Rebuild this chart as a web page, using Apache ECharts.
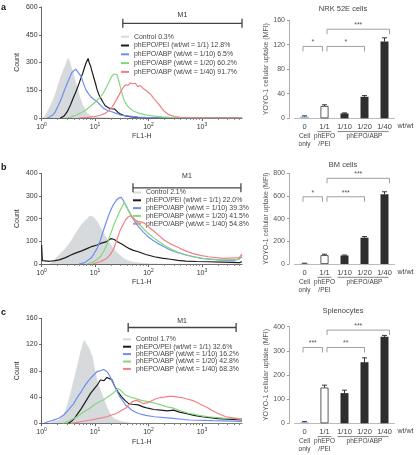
<!DOCTYPE html>
<html><head><meta charset="utf-8">
<script src="https://cdn.jsdelivr.net/npm/echarts@6/dist/echarts.min.js"></script>
<style>html,body{margin:0;padding:0;background:#fff}#c{width:418px;height:455px}</style>
</head><body><div id="c"></div>
<script>
// ---------- DATA ----------
// Histogram x values are log10(FL1-H) decades (axis labelled 10^0 .. 10^3)
const panelLetters = ['a', 'b', 'c'];
const legendA = ['Control 0.3%', 'phEPO/PEI (wt/wt = 1/1) 12.8%', 'phEPO/ABP (wt/wt = 1/10) 6.5%', 'phEPO/ABP (wt/wt = 1/20) 60.2%', 'phEPO/ABP (wt/wt = 1/40) 91.7%'];
const legendB = ['Control 2.1%', 'phEPO/PEI (wt/wt = 1/1) 22.0%', 'phEPO/ABP (wt/wt = 1/10) 39.3%', 'phEPO/ABP (wt/wt = 1/20) 41.5%', 'phEPO/ABP (wt/wt = 1/40) 54.8%'];
const legendC = ['Control 1.7%', 'phEPO/PEI (wt/wt = 1/1) 32.6%', 'phEPO/ABP (wt/wt = 1/10) 16.2%', 'phEPO/ABP (wt/wt = 1/20) 42.8%', 'phEPO/ABP (wt/wt = 1/40) 68.3%'];
const histYMax = [600, 400, 160];
const histYStep = [150, 100, 40];
const histXTicks = [0, 1, 2, 3];

const aCtrl = [[0,0],[0.05,5],[0.12,40],[0.18,75],[0.24,115],[0.3,170],[0.36,224],[0.41,262],[0.45,287],[0.48,312],[0.5,323],[0.53,302],[0.56,272],[0.59,245],[0.63,200],[0.68,152],[0.72,110],[0.77,70],[0.82,42],[0.86,25],[0.92,14],[0.98,8],[1.05,5],[1.15,3],[1.3,1],[1.5,0],[3.75,0]];
const aPei = [[0.35,0],[0.42,10],[0.48,34],[0.54,70],[0.59,107],[0.64,140],[0.68,170],[0.73,210],[0.77,242],[0.8,270],[0.83,296],[0.85,305],[0.87,322],[0.89,300],[0.92,278],[0.95,245],[0.98,215],[1.01,185],[1.04,152],[1.07,128],[1.1,110],[1.15,85],[1.19,66],[1.25,55],[1.31,50],[1.37,48],[1.43,30],[1.5,18],[1.57,11],[1.68,6],[1.8,3],[2.0,0],[3.75,0]];
const aAbp10 = [[0.1,0],[0.15,5],[0.2,15],[0.24,25],[0.3,60],[0.36,98],[0.42,145],[0.48,188],[0.52,215],[0.56,242],[0.6,255],[0.64,264],[0.67,255],[0.7,240],[0.74,224],[0.78,190],[0.83,152],[0.88,130],[0.92,115],[0.98,100],[1.04,88],[1.1,70],[1.16,52],[1.23,42],[1.31,34],[1.4,25],[1.48,16],[1.57,12],[1.66,10],[1.8,5],[1.95,3],[2.2,0],[3.75,0]];
const aAbp20 = [[0.45,0],[0.55,5],[0.65,16],[0.75,30],[0.83,43],[0.92,65],[1.01,88],[1.07,105],[1.13,124],[1.18,148],[1.22,170],[1.27,200],[1.31,224],[1.35,238],[1.38,242],[1.41,235],[1.45,196],[1.48,160],[1.51,128],[1.55,92],[1.6,68],[1.66,50],[1.72,38],[1.8,28],[1.9,20],[2.0,15],[2.1,10],[2.25,6],[2.4,3],[2.6,0],[3.75,0]];
const aAbp40 = [[0.7,0],[0.85,3],[1.0,8],[1.1,15],[1.19,25],[1.25,38],[1.31,55],[1.36,78],[1.4,98],[1.45,125],[1.5,152],[1.54,170],[1.58,180],[1.62,176],[1.66,190],[1.7,185],[1.75,188],[1.8,170],[1.85,175],[1.9,160],[1.95,150],[2.0,138],[2.05,125],[2.1,105],[2.15,88],[2.2,72],[2.25,52],[2.3,35],[2.38,18],[2.48,8],[2.6,4],[2.8,2],[3.0,0],[3.75,0]];

const bCtrl = [[0.15,0],[0.25,20],[0.33,40],[0.42,62],[0.5,84],[0.56,105],[0.62,128],[0.68,150],[0.74,172],[0.8,188],[0.86,200],[0.9,212],[0.95,209],[1.0,200],[1.04,187],[1.1,162],[1.16,135],[1.22,112],[1.28,91],[1.34,70],[1.4,54],[1.46,40],[1.52,28],[1.6,16],[1.7,9],[1.85,4],[2.0,1],[2.2,0],[3.75,0]];
const bPei = [[0,84],[0.015,15],[0.05,10],[0.15,12],[0.25,15],[0.33,18],[0.45,28],[0.55,40],[0.62,47],[0.75,58],[0.86,69],[0.95,78],[1.04,84],[1.12,92],[1.22,99],[1.3,112],[1.36,108],[1.42,98],[1.5,88],[1.58,76],[1.63,69],[1.72,60],[1.81,54],[1.95,42],[2.11,32],[2.25,26],[2.41,21],[2.55,16],[2.7,13],[2.9,11],[3.12,10],[3.4,8],[3.7,6],[3.75,10]];
const bAbp10 = [[0.7,0],[0.8,5],[0.92,25],[0.98,45],[1.04,69],[1.1,105],[1.16,150],[1.22,192],[1.28,231],[1.34,260],[1.4,282],[1.45,292],[1.49,294],[1.53,280],[1.57,260],[1.63,235],[1.69,209],[1.75,186],[1.81,165],[1.9,142],[1.99,121],[2.08,105],[2.17,91],[2.3,75],[2.41,62],[2.55,50],[2.7,40],[2.85,32],[3.0,25],[3.3,18],[3.6,14],[3.75,30]];
const bAbp20 = [[0.85,0],[0.95,8],[1.04,20],[1.1,32],[1.16,55],[1.22,84],[1.28,125],[1.34,165],[1.4,200],[1.46,231],[1.51,255],[1.55,272],[1.59,255],[1.63,231],[1.69,210],[1.75,194],[1.84,172],[1.93,150],[2.02,130],[2.11,113],[2.2,98],[2.29,84],[2.4,68],[2.53,54],[2.67,42],[2.82,32],[2.97,26],[3.12,22],[3.4,18],[3.7,20],[3.75,40]];
const bAbp40 = [[0.95,0],[1.1,10],[1.22,25],[1.28,40],[1.34,62],[1.4,100],[1.46,143],[1.52,172],[1.57,194],[1.62,208],[1.66,213],[1.7,205],[1.75,194],[1.8,188],[1.87,185],[1.93,179],[2.02,160],[2.11,143],[2.2,125],[2.29,106],[2.4,90],[2.53,76],[2.67,60],[2.82,47],[2.97,38],[3.12,32],[3.4,25],[3.7,28],[3.75,45]];

const cCtrl = [[0.15,0],[0.25,3],[0.33,5],[0.4,12],[0.45,20],[0.5,33],[0.56,51],[0.6,65],[0.65,81],[0.7,98],[0.74,112],[0.77,120],[0.8,127],[0.83,122],[0.86,118],[0.89,114],[0.92,108],[0.95,102],[0.98,88],[1.01,76],[1.05,63],[1.1,51],[1.16,38],[1.22,25],[1.28,15],[1.34,8],[1.45,4],[1.55,2],[1.7,0],[3.75,0]];
const cPei = [[0.5,0],[0.56,3],[0.62,8],[0.68,15],[0.74,22],[0.8,30],[0.86,38],[0.92,46],[0.98,52],[1.04,58],[1.1,66],[1.13,69],[1.17,65],[1.22,70],[1.27,68],[1.31,67],[1.34,62],[1.37,56],[1.43,48],[1.49,41],[1.56,35],[1.63,30],[1.7,29],[1.81,28],[1.9,25],[1.99,23],[2.1,21],[2.23,20],[2.35,19],[2.47,20],[2.58,17],[2.7,15],[2.85,12],[3.0,10],[3.3,7],[3.75,5]];
const cAbp10 = [[0.05,0],[0.1,2],[0.2,4],[0.33,8],[0.42,13],[0.5,20],[0.6,30],[0.68,41],[0.74,48],[0.8,56],[0.86,63],[0.92,69],[0.98,74],[1.04,79],[1.1,80],[1.16,82],[1.2,80],[1.25,76],[1.3,68],[1.34,61],[1.4,51],[1.46,41],[1.52,34],[1.57,28],[1.63,24],[1.69,20],[1.81,15],[1.95,12],[2.11,10],[2.41,8],[2.76,5],[3.2,4],[3.75,3]];
const cAbp20 = [[0.4,0],[0.5,3],[0.62,8],[0.7,12],[0.8,18],[0.9,23],[0.98,28],[1.07,32],[1.16,36],[1.25,41],[1.34,46],[1.39,50],[1.43,53],[1.48,50],[1.53,46],[1.57,43],[1.66,40],[1.75,38],[1.87,35],[1.99,33],[2.11,31],[2.23,28],[2.35,25],[2.47,23],[2.6,19],[2.76,15],[2.95,12],[3.12,10],[3.4,8],[3.75,7]];
const cAbp40 = [[0.55,0],[0.7,2],[0.92,5],[1.1,8],[1.22,10],[1.32,13],[1.4,15],[1.5,20],[1.57,23],[1.63,28],[1.7,33],[1.77,35],[1.84,33],[1.9,30],[1.97,31],[2.05,34],[2.13,37],[2.21,39],[2.3,40],[2.38,41],[2.47,41],[2.55,40],[2.64,39],[2.72,37],[2.82,35],[2.9,32],[3.0,28],[3.1,24],[3.18,20],[3.3,15],[3.45,10],[3.6,8],[3.75,6]];

// M1 gate: [start decade, end decade, count level]
const m1A = [1.52, 3.75, 512];
const m1B = [1.71, 3.73, 336];
const m1C = [1.62, 3.64, 146];

// Bar charts
const cellTitles = ['NRK 52E cells', 'BM cells', 'Splenocytes'];
const barCats = ['0', '1/1', '1/10', '1/20', '1/40'];
const barGroups = ['Cell\nonly', 'phEPO\n/PEI', '', 'phEPO/ABP', ''];
const groupSpans = [[1, 1], [2, 4]];
const barA = [3, 20, 8, 35, 125];
const errA = [1, 2, 0.8, 2, 6];
const barB = [5, 78, 75, 232, 615];
const errB = [2, 8, 4, 10, 22];
const barC = [5, 148, 125, 253, 358];
const errC = [2, 10, 12, 18, 6];
const barYMax = [160, 800, 400];
const barYStep = [40, 200, 100];
// significance: [from category, to category, level, label]
const sigA = [[0, 1, 117, '*'], [1, 3, 117, '*'], [1, 4, 145, '***']];
const sigB = [[0, 1, 593, '*'], [1, 3, 593, '***'], [1, 4, 756, '***']];
const sigC = [[0, 1, 314, '***'], [1, 3, 314, '**'], [1, 4, 386, '***']];

// ---------- LAYOUT / STYLE ----------
const F = "'Liberation Sans', Arial, Helvetica, sans-serif";
const histTop = [7, 173.3, 318.3], histH = [111, 90.7, 105];
const barTop = [20, 173.3, 326.7], barH = [98.3, 90.7, 96.6];
const legendTop = [33.2, 189, 335.8], legendLeft = [121, 133, 123], legendGap = [1.8, 0.8, 0.4];
const m1TextOff = [8.5, 11.5, 6];
const titleTop = [5, 161, 306.5];
const letterTop = [3, 163, 308];
const colCtrl = '#d6dadc', colPei = '#1c1c1c', colB = '#6f8ef0', colG = '#86d67f', colR = '#f27f86';
const lineCols = [colCtrl, colPei, colB, colG, colR];

const histData = [[aCtrl, aPei, aAbp10, aAbp20, aAbp40], [bCtrl, bPei, bAbp10, bAbp20, bAbp40], [cCtrl, cPei, cAbp10, cAbp20, cAbp40]];
const legends = [legendA, legendB, legendC];
const m1s = [m1A, m1B, m1C];
const bars = [barA, barB, barC], errs = [errA, errB, errC], sigs = [sigA, sigB, sigC];

const minorVals = [];
for (let d = 0; d < 4; d++) for (let k = 2; k < 10; k++) { const v = d + Math.log10(k); if (v <= 3.75) minorVals.push(v); }

const grid = [], xAxis = [], yAxis = [], series = [], legend = [], title = [];

for (let i = 0; i < 3; i++) grid.push({ left: 31, width: 211, top: histTop[i], height: histH[i] });
for (let i = 0; i < 3; i++) grid.push({ left: 294.5, width: 100, top: barTop[i], height: barH[i] });

// hist main x axes 0-2
for (let i = 0; i < 3; i++) xAxis.push({
  type: 'value', gridIndex: i, min: 0, max: 3.75, position: 'bottom',
  axisLine: { lineStyle: { color: '#666', width: 1 } },
  axisTick: { customValues: histXTicks, length: 3, lineStyle: { color: '#666' } },
  axisLabel: { customValues: histXTicks, margin: 4, color: '#333',
    formatter: v => '{b|10}{s|' + Math.round(v) + '}',
    rich: { b: { fontSize: 7, fontFamily: F, color: '#333', verticalAlign: 'bottom' }, s: { fontSize: 5, fontFamily: F, color: '#333', verticalAlign: 'bottom', padding: [0, 0, 3.5, 0] } } },
  splitLine: { show: false },
  name: 'FL1-H', nameLocation: 'middle', nameGap: 15,
  nameTextStyle: { fontSize: 7, color: '#333', fontFamily: F }
});
// hist minor tick axes 3-5
for (let i = 0; i < 3; i++) xAxis.push({
  type: 'value', gridIndex: i, min: 0, max: 3.75, position: 'bottom',
  axisLine: { show: false }, axisLabel: { show: false }, splitLine: { show: false },
  axisTick: { customValues: minorVals, length: 1.8, lineStyle: { color: '#777' } }
});
// bar x axes 6-8
for (let i = 0; i < 3; i++) xAxis.push({
  type: 'category', gridIndex: 3 + i, data: barCats,
  axisLine: { lineStyle: { color: '#aaa', width: 0.8 } },
  axisTick: { show: false },
  axisLabel: { interval: 0, margin: 3,
    formatter: (v, idx) => '{c|' + v + '}\n' + (barGroups[idx] || ' ').split('\n').map(s => '{g|' + s + '}').join('\n'),
    rich: { c: { fontSize: 7.5, lineHeight: 11, color: '#444', fontFamily: F }, g: { fontSize: 6.5, lineHeight: 8.2, color: '#444', fontFamily: F } } },
  name: 'wt/wt', nameLocation: 'end', nameGap: 3,
  nameTextStyle: { fontSize: 7, color: '#444', fontFamily: F, align: 'left', verticalAlign: 'top', padding: [4.5, 0, 0, 0] }
});

for (let i = 0; i < 3; i++) yAxis.push({
  type: 'value', gridIndex: i, min: 0, max: histYMax[i], interval: histYStep[i],
  axisLine: { show: true, lineStyle: { color: '#666', width: 1 } },
  axisTick: { show: true, length: 2.5, lineStyle: { color: '#666' } },
  axisLabel: { fontSize: 7, color: '#333', margin: 4, fontFamily: F },
  splitLine: { show: false },
  name: 'Count', nameLocation: 'middle', nameGap: 21,
  nameTextStyle: { fontSize: 7, color: '#333', fontFamily: F }
});
for (let i = 0; i < 3; i++) yAxis.push({
  type: 'value', gridIndex: 3 + i, min: 0, max: barYMax[i], interval: barYStep[i], offset: 5.5,
  axisLine: { show: true, lineStyle: { color: '#999', width: 0.8 } },
  axisTick: { show: true, length: 2, lineStyle: { color: '#999' } },
  axisLabel: { fontSize: 7, color: '#555', margin: 4, fontFamily: F },
  splitLine: { show: false },
  name: 'YOYO-1 cellular uptake (MFI)', nameLocation: 'middle', nameGap: 19,
  nameTextStyle: { fontSize: 7, color: '#555', fontFamily: F }
});

for (let i = 0; i < 3; i++) {
  const names = legends[i];
  histData[i].forEach((d, k) => {
    const s = {
      type: 'line', name: names[k], xAxisIndex: i, yAxisIndex: i, data: d,
      showSymbol: false, symbol: 'none', animation: false, silent: true,
      itemStyle: { color: lineCols[k] },
      lineStyle: { color: lineCols[k], width: k === 0 ? 0.5 : 1.2 },
      z: 2 + k
    };
    if (k === 0) s.areaStyle = { color: colCtrl, opacity: 1 };
    series.push(s);
  });
  // M1 gate
  const m1 = m1s[i];
  const off = m1TextOff[i];
  series.push({
    type: 'custom', xAxisIndex: i, yAxisIndex: i, data: [m1], clip: false, silent: true, z: 10,
    renderItem: (params, api) => {
      const p1 = api.coord([api.value(0), api.value(2)]);
      const p2 = api.coord([api.value(1), api.value(2)]);
      const st = { stroke: '#444', lineWidth: 1.3 };
      return { type: 'group', children: [
        { type: 'line', shape: { x1: p1[0], y1: p1[1], x2: p2[0], y2: p2[1] }, style: st },
        { type: 'line', shape: { x1: p1[0], y1: p1[1] - 4.5, x2: p1[0], y2: p1[1] + 4.5 }, style: st },
        { type: 'line', shape: { x1: p2[0], y1: p2[1] - 4.5, x2: p2[0], y2: p2[1] + 4.5 }, style: st },
        { type: 'text', style: { text: 'M1', x: (p1[0] + p2[0]) / 2, y: p1[1] - off, align: 'center', verticalAlign: 'middle', fontSize: 7, fontFamily: F, fill: '#333' } }
      ] };
    }
  });
  legend.push({
    data: names, orient: 'vertical', left: legendLeft[i], top: legendTop[i],
    icon: 'rect', itemWidth: 8, itemHeight: 2, itemGap: legendGap[i], selectedMode: false, padding: 0,
    textStyle: { fontSize: 6.9, color: '#444', fontFamily: F, lineHeight: 7 }
  });
  title.push({ text: panelLetters[i], left: 1, top: letterTop[i], padding: 0, textStyle: { fontSize: 9, fontWeight: 'bold', color: '#111', fontFamily: F } });
  title.push({ text: cellTitles[i], left: 343, top: titleTop[i], textAlign: 'center', padding: 0, textStyle: { fontSize: 7.5, fontWeight: 'normal', color: '#444', fontFamily: F } });

  // Bars
  const xi = 6 + i, yi = 3 + i;
  series.push({
    type: 'bar', xAxisIndex: xi, yAxisIndex: yi, barWidth: 8, silent: true, animation: false,
    data: bars[i].map((v, k) => ({ value: v, itemStyle: k === 0 ? { color: '#b3cbef', borderColor: '#8fb0e3', borderWidth: 0.5 } : k === 1 ? { color: '#ffffff', borderColor: '#333', borderWidth: 0.8 } : { color: '#2e2e2e' } }))
  });
  // error bars
  series.push({
    type: 'custom', xAxisIndex: xi, yAxisIndex: yi, silent: true, z: 5,
    data: bars[i].map((v, k) => [k, v, errs[i][k]]),
    renderItem: (params, api) => {
      const x = api.value(0), v = api.value(1), e = api.value(2);
      const top = api.coord([x, v + e]), base = api.coord([x, v]);
      const st = { stroke: '#222', lineWidth: 0.9 };
      return { type: 'group', children: [
        { type: 'line', shape: { x1: base[0], y1: base[1], x2: top[0], y2: top[1] }, style: st },
        { type: 'line', shape: { x1: top[0] - 2.5, y1: top[1], x2: top[0] + 2.5, y2: top[1] }, style: st }
      ] };
    }
  });
  // significance brackets
  const sg = sigs[i];
  series.push({
    type: 'custom', xAxisIndex: xi, yAxisIndex: yi, silent: true, clip: false, z: 6,
    data: sg.map(s => [s[0], s[1], s[2]]),
    renderItem: (params, api) => {
      const f = api.value(0), t = api.value(1), lv = api.value(2);
      const a = api.coord([f, lv]), b = api.coord([t, lv]);
      const x1 = a[0] + (f === 1 ? 2.5 : -1.5);
      const x2 = b[0] + (t === 1 ? -2 : t === 4 ? 5 : 0);
      const y = a[1];
      return { type: 'group', children: [
        { type: 'polyline', shape: { points: [[x1, y + 5], [x1, y], [x2, y], [x2, y + 5]] }, style: { stroke: '#888', lineWidth: 0.8, fill: null } },
        { type: 'text', style: { text: sg[params.dataIndex][3], x: (x1 + x2) / 2, y: y - 0.5, align: 'center', verticalAlign: 'bottom', fontSize: 7, fontFamily: F, fill: '#555' } }
      ] };
    }
  });
  // group overlines under category labels
  series.push({
    type: 'custom', xAxisIndex: xi, yAxisIndex: yi, silent: true, clip: false, z: 6,
    data: groupSpans,
    renderItem: (params, api) => {
      const f = api.value(0), t = api.value(1);
      const a = api.coord([f, 0]), b = api.coord([t, 0]);
      const y = a[1] + 13.3;
      return { type: 'line', shape: { x1: a[0] - 7, y1: y, x2: b[0] + (f === t ? 7 : 4), y2: y }, style: { stroke: '#666', lineWidth: 0.8 } };
    }
  });
}

const chart = echarts.init(document.getElementById('c'), null, { renderer: 'canvas', width: 418, height: 455 });
chart.setOption({
  animation: false,
  backgroundColor: '#fff',
  textStyle: { fontFamily: F },
  title, legend, grid, xAxis, yAxis, series
});
</script></body></html>
